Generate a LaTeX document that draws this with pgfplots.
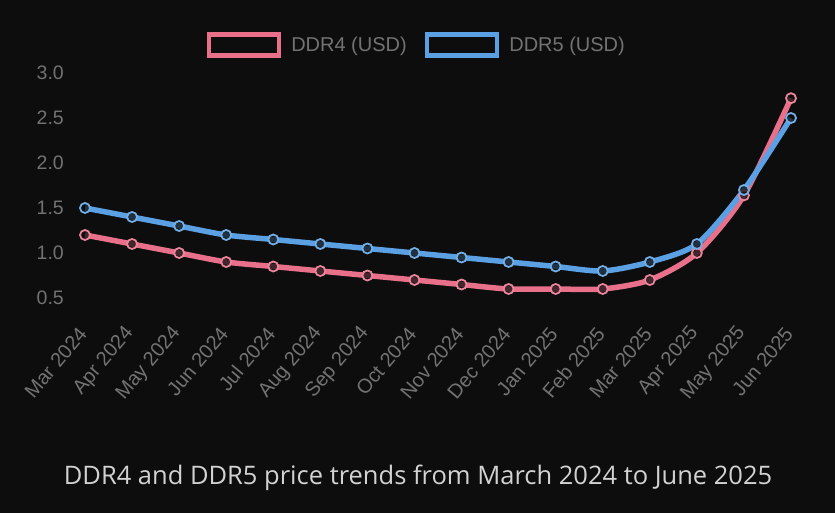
\documentclass[border=0pt]{standalone}
\usepackage{pgfplots}
\pgfplotsset{compat=1.18}
\usepackage{fontspec}
\setmainfont{Liberation Sans}
\newfontfamily\titlefont{Open Sans}
\definecolor{bgcol}{HTML}{0D0D0D}
\definecolor{ddrfour}{HTML}{E8708A}
\definecolor{ddrfive}{HTML}{5AA0E2}
\definecolor{ticktxt}{HTML}{727272}
\definecolor{titletxt}{HTML}{D2D2D2}
\begin{document}
\begin{tikzpicture}[x=1pt,y=1pt]
\fill[bgcol] (0,0) rectangle (835,513);
\begin{axis}[
  at={(85pt,215pt)}, anchor=south west,
  scale only axis, width=706pt, height=225pt,
  xmin=0, xmax=15, ymin=0.5, ymax=3.0,
  clip=false,
  axis line style={draw=none},
  major tick length=0pt,
  xtick={0,...,15},
  xticklabels={Mar 2024,Apr 2024,May 2024,Jun 2024,Jul 2024,Aug 2024,Sep 2024,Oct 2024,Nov 2024,Dec 2024,Jan 2025,Feb 2025,Mar 2025,Apr 2025,May 2025,Jun 2025},
  ytick={0.5,1.0,1.5,2.0,2.5,3.0},
  yticklabel style={/pgf/number format/fixed,/pgf/number format/fixed zerofill,/pgf/number format/precision=1,
    font=\fontsize{19.5}{22}\selectfont, text=ticktxt, anchor=east, inner sep=0pt, xshift=-21pt},
  xticklabel style={font=\fontsize{20}{22}\selectfont, text=ticktxt, inner sep=0pt, xshift=-2pt, yshift=-32pt, rotate=50, anchor=east},
  /pgf/number format/assume math mode=true,
  legend style={at={(0.470,1.124)}, anchor=center, draw=none, fill=none,
    legend columns=2, font=\fontsize{20}{22}\selectfont, text=ticktxt,
    /tikz/every even column/.append style={column sep=16pt},
    /tikz/every odd column/.append style={column sep=8pt},
    legend cell align=left},
  legend image code/.code={\draw[line width=4.5pt, fill=bgcol] (0pt,-10.5pt) rectangle (70pt,10.5pt);},
]
\addplot[color=ddrfour, line width=5.5pt, smooth, tension=0.45,
  mark=*, mark size=5pt, mark options={line width=1.8pt, draw=ddrfour!85!white, fill=bgcol, fill opacity=0.75}]
  coordinates {(0,1.2)(1,1.1)(2,1.0)(3,0.9)(4,0.85)(5,0.8)(6,0.75)(7,0.7)(8,0.65)(9,0.6)(10,0.6)(11,0.6)(12,0.7)(13,1.0)(14,1.64)(15,2.72)};
\addlegendentry{DDR4 (USD)}
\addplot[color=ddrfive, line width=5.5pt, smooth, tension=0.45,
  mark=*, mark size=5pt, mark options={line width=1.8pt, draw=ddrfive!85!white, fill=bgcol, fill opacity=0.75}]
  coordinates {(0,1.5)(1,1.4)(2,1.3)(3,1.2)(4,1.15)(5,1.1)(6,1.05)(7,1.0)(8,0.95)(9,0.9)(10,0.85)(11,0.8)(12,0.9)(13,1.1)(14,1.7)(15,2.5)};
\addlegendentry{DDR5 (USD)}
\end{axis}
\node[text=titletxt, font=\titlefont\fontsize{25.5}{28}\selectfont, anchor=center] at (418,35) {DDR4 and DDR5 price trends from March 2024 to June 2025};
\end{tikzpicture}
\end{document}
